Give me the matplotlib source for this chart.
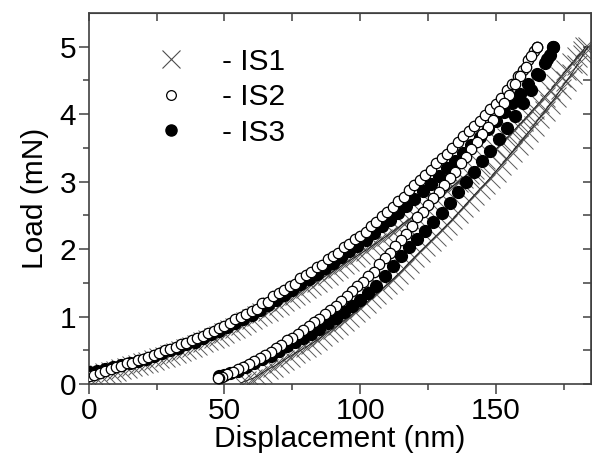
import matplotlib
matplotlib.use("Agg")
import matplotlib.pyplot as plt
from matplotlib.lines import Line2D

plt.rcParams['font.family'] = ['Liberation Sans', 'DejaVu Sans']

# IS1 (crosses), loading and unloading
is1_load_h = [0, 2, 4, 6, 8, 10, 12, 14, 16, 18, 20, 22, 24, 26, 28, 30, 32, 34, 36, 38, 40,
              42, 44, 46, 48, 50, 52, 54, 56, 58, 60, 62, 64, 66, 68, 70, 72, 74, 76, 78, 80,
              82, 84, 86, 88, 90, 92, 94, 96, 98, 100, 102, 104, 106, 108, 110, 112, 114, 116,
              118, 120, 122, 124, 126, 128, 130, 132, 134, 136, 138, 140, 142, 144, 146, 148,
              150, 152, 154, 156, 158, 160, 162, 164, 166, 168, 170, 172, 174, 176, 178, 180,
              182, 183]
is1_load_p = [0.1, 0.12, 0.14, 0.16, 0.18, 0.2, 0.22, 0.24, 0.27, 0.29, 0.31, 0.33, 0.36, 0.39,
              0.41, 0.44, 0.47, 0.49, 0.52, 0.55, 0.58, 0.62, 0.65, 0.69, 0.72, 0.76, 0.8, 0.84,
              0.88, 0.92, 0.96, 1.01, 1.05, 1.09, 1.14, 1.18, 1.23, 1.28, 1.32, 1.37, 1.42, 1.47,
              1.52, 1.57, 1.62, 1.67, 1.72, 1.78, 1.83, 1.88, 1.93, 1.98, 2.04, 2.09, 2.15, 2.2,
              2.26, 2.32, 2.38, 2.44, 2.5, 2.56, 2.62, 2.68, 2.74, 2.8, 2.86, 2.93, 2.99, 3.06,
              3.12, 3.19, 3.26, 3.33, 3.41, 3.48, 3.56, 3.65, 3.73, 3.82, 3.9, 3.99, 4.08, 4.17,
              4.26, 4.35, 4.45, 4.55, 4.65, 4.75, 4.85, 4.93, 5.0]
is1_unload_h = [184, 182, 180, 178, 176, 174, 172, 170, 168, 166, 164, 162, 160, 158, 156, 154,
                152, 150, 148, 146, 144, 142, 140, 138, 136, 134, 132, 130, 128, 126, 124, 122,
                120, 118, 116, 114, 112, 110, 108, 106, 104, 102, 100, 98, 96, 94, 92, 90, 88,
                86, 84, 82, 80, 78, 76, 74, 72, 70, 68, 66, 64, 62, 60, 58, 56]
is1_unload_p = [5.0, 4.87, 4.73, 4.6, 4.49, 4.37, 4.25, 4.15, 4.04, 3.94, 3.83, 3.73, 3.63, 3.54,
                3.44, 3.34, 3.25, 3.15, 3.06, 2.97, 2.89, 2.8, 2.71, 2.62, 2.53, 2.44, 2.36, 2.28,
                2.2, 2.12, 2.04, 1.96, 1.88, 1.8, 1.71, 1.63, 1.55, 1.48, 1.41, 1.34, 1.27, 1.2,
                1.13, 1.07, 1.0, 0.94, 0.88, 0.82, 0.77, 0.71, 0.65, 0.6, 0.55, 0.5, 0.46, 0.41,
                0.36, 0.31, 0.26, 0.22, 0.17, 0.12, 0.08, 0.05, 0.02]

# IS2 (open circles)
is2_load_h = [0, 2, 4, 6, 8, 10, 12, 14, 16, 18, 20, 22, 24, 26, 28, 30, 32, 34, 36, 38, 40,
              42, 44, 46, 48, 50, 52, 54, 56, 58, 60, 62, 64, 66, 68, 70, 72, 74, 76, 78, 80,
              82, 84, 86, 88, 90, 92, 94, 96, 98, 100, 102, 104, 106, 108, 110, 112, 114, 116,
              118, 120, 122, 124, 126, 128, 130, 132, 134, 136, 138, 140, 142, 144, 146, 148,
              150, 152, 154, 156, 158, 160, 162, 164, 165]
is2_load_p = [0.12, 0.13, 0.17, 0.19, 0.22, 0.25, 0.27, 0.31, 0.32, 0.36, 0.38, 0.4, 0.44, 0.46,
              0.5, 0.52, 0.55, 0.59, 0.61, 0.65, 0.68, 0.71, 0.76, 0.79, 0.84, 0.87, 0.9, 0.96,
              0.99, 1.04, 1.08, 1.12, 1.2, 1.22, 1.3, 1.35, 1.39, 1.46, 1.49, 1.57, 1.62, 1.66,
              1.73, 1.77, 1.85, 1.9, 1.95, 2.03, 2.07, 2.15, 2.2, 2.26, 2.34, 2.4, 2.49, 2.55,
              2.62, 2.72, 2.78, 2.88, 2.95, 3.02, 3.1, 3.18, 3.28, 3.35, 3.41, 3.5, 3.58, 3.68,
              3.75, 3.82, 3.9, 3.98, 4.08, 4.15, 4.24, 4.36, 4.44, 4.56, 4.65, 4.8, 4.93, 5.0]
is2_unload_h = [165, 163, 161, 159, 157, 155, 153, 151, 149, 147, 145, 143, 141, 139, 137, 135,
                133, 131, 129, 127, 125, 123, 121, 119, 117, 115, 113, 111, 109, 107, 105, 103,
                101, 99, 97, 95, 93, 91, 89, 87, 85, 83, 81, 79, 77, 75, 73, 71, 69, 67, 65, 63,
                61, 59, 57, 55, 53, 51, 49, 48, 47.5]
is2_unload_p = [5.0, 4.86, 4.7, 4.57, 4.45, 4.29, 4.16, 4.04, 3.92, 3.81, 3.7, 3.58, 3.48, 3.37,
                3.28, 3.15, 3.05, 2.95, 2.85, 2.76, 2.65, 2.55, 2.47, 2.34, 2.23, 2.14, 2.04,
                1.95, 1.87, 1.78, 1.66, 1.6, 1.52, 1.45, 1.38, 1.3, 1.24, 1.16, 1.1, 1.04, 0.96,
                0.92, 0.86, 0.8, 0.74, 0.69, 0.66, 0.58, 0.53, 0.48, 0.44, 0.39, 0.34, 0.3, 0.26,
                0.22, 0.18, 0.15, 0.11, 0.1, 0.09]

# IS3 (filled circles)
is3_load_h = [0, 3, 6, 9, 12, 15, 18, 21, 24, 27, 30, 33, 36, 39, 42, 45, 48, 51, 54, 57, 60,
              63, 66, 69, 72, 75, 78, 81, 84, 87, 90, 93, 96, 99, 102, 105, 108, 111, 114, 117,
              120, 123, 126, 129, 132, 135, 138, 141, 144, 147, 150, 153, 156, 159, 162, 165,
              168, 170, 171]
is3_load_p = [0.18, 0.2, 0.23, 0.26, 0.29, 0.32, 0.35, 0.38, 0.42, 0.46, 0.5, 0.54, 0.59, 0.63,
              0.69, 0.74, 0.79, 0.85, 0.91, 0.97, 1.03, 1.1, 1.17, 1.25, 1.32, 1.4, 1.48, 1.56,
              1.64, 1.72, 1.8, 1.88, 1.97, 2.05, 2.14, 2.24, 2.34, 2.43, 2.54, 2.64, 2.75, 2.86,
              2.97, 3.08, 3.2, 3.31, 3.42, 3.54, 3.66, 3.78, 3.9, 4.03, 4.17, 4.3, 4.45, 4.6,
              4.75, 4.88, 5.0]
is3_unload_h = [171, 169, 166, 163, 160, 157, 154, 151, 148, 145, 142, 139, 136, 133, 130, 127,
                124, 121, 118, 115, 112, 109, 106, 103, 100, 97, 94, 91, 88, 85, 82, 79, 76, 73,
                70, 67, 64, 61, 58, 55, 52, 50, 48]
is3_unload_p = [5.0, 4.82, 4.58, 4.36, 4.16, 3.97, 3.8, 3.63, 3.46, 3.3, 3.15, 3.0, 2.85, 2.69,
                2.54, 2.4, 2.27, 2.15, 2.03, 1.9, 1.75, 1.6, 1.46, 1.35, 1.25, 1.16, 1.07, 0.98,
                0.9, 0.82, 0.75, 0.68, 0.62, 0.56, 0.49, 0.42, 0.37, 0.31, 0.26, 0.2, 0.16, 0.14,
                0.12]

fs = 21.5
spine_c = '0.25'

fig = plt.figure(figsize=(5.92, 4.58), dpi=100)
ax = fig.add_axes([0.150, 0.161, 0.848, 0.811])

for h, p in [(is1_load_h, is1_load_p), (is1_unload_h, is1_unload_p)]:
    ax.plot(h, p, ls='none', marker='x', ms=15, mew=0.7, color='0.35', zorder=2)
    ax.plot(h, p, color='0.1', lw=0.6, zorder=2)

for h, p in [(is3_load_h, is3_load_p), (is3_unload_h, is3_unload_p)]:
    ax.plot(h, p, ls='none', marker='o', ms=8.5, mfc='black', mec='black', zorder=3)

for h, p in [(is2_load_h, is2_load_p), (is2_unload_h, is2_unload_p)]:
    ax.plot(h, p, ls='none', marker='o', ms=7.5, mfc='white', mec='black', mew=0.9, zorder=4)

ax.set_xlim(0, 185)
ax.set_ylim(0, 5.5)
ax.set_xticks([0, 50, 100, 150])
ax.set_xticks([25, 75, 125, 175], minor=True)
ax.set_yticks([0, 1, 2, 3, 4, 5])
ax.set_yticks([0.5, 1.5, 2.5, 3.5, 4.5], minor=True)
ax.tick_params(which='major', direction='out', length=7, width=1.1, color=spine_c,
               labelsize=fs, pad=2)
ax.tick_params(which='minor', direction='out', length=4, width=1.1, color=spine_c)
for s in ax.spines.values():
    s.set_color(spine_c)
    s.set_linewidth(1.2)

# inward ticks on top and right
top = ax.secondary_xaxis('top')
top.set_xticks([0, 50, 100, 150])
top.set_xticks([25, 75, 125, 175], minor=True)
top.tick_params(which='both', direction='in', length=6, width=1.1, color=spine_c, labeltop=False)
top.spines['top'].set_color(spine_c)
right = ax.secondary_yaxis('right')
right.set_yticks([0, 1, 2, 3, 4, 5])
right.set_yticks([0.5, 1.5, 2.5, 3.5, 4.5], minor=True)
right.tick_params(which='both', direction='in', length=6, width=1.1, color=spine_c, labelright=False)
right.spines['right'].set_color(spine_c)

ax.set_xlabel('Displacement (nm)', fontsize=fs, labelpad=0)
ax.set_ylabel('Load (mN)', fontsize=fs, labelpad=8)

handles = [
    Line2D([], [], ls='none', marker='x', ms=13, mew=0.8, color='0.3'),
    Line2D([], [], ls='none', marker='o', ms=7, mfc='white', mec='black', mew=0.9),
    Line2D([], [], ls='none', marker='o', ms=8, mfc='black', mec='black'),
]
ax.legend(handles, ['- IS1', '- IS2', '- IS3'], fontsize=fs, frameon=False,
          loc='upper left', bbox_to_anchor=(0.117, 0.906), borderaxespad=0, borderpad=0,
          handlelength=1.6, handletextpad=0.9, labelspacing=0.25)

fig.savefig('out.png', dpi=100)
